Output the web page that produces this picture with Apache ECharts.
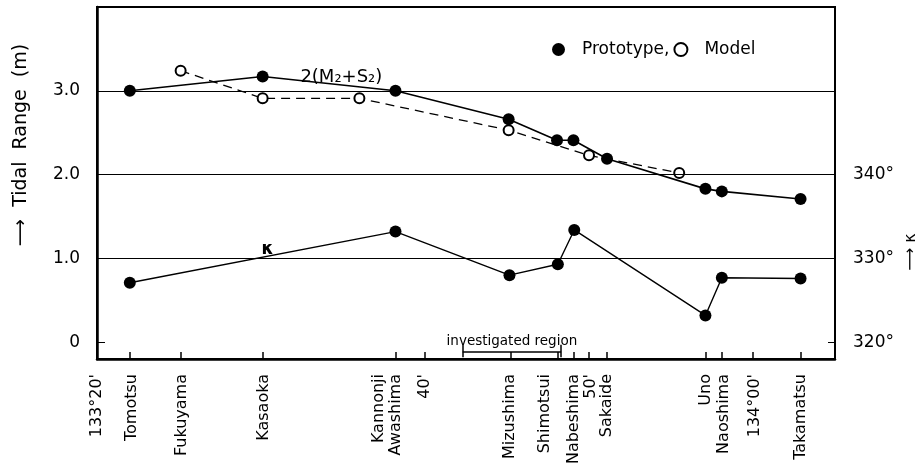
<!DOCTYPE html>
<html>
<head>
<meta charset="utf-8">
<script src="https://cdn.jsdelivr.net/npm/echarts@6/dist/echarts.min.js"></script>
<style>html,body{margin:0;padding:0;background:#fff}#c{width:919px;height:473px}</style>
</head>
<body>
<div id="c"></div>
<script>
// Longitude (minutes past 133°) of stations
const protoLon   = [22.0, 30.1, 38.2, 45.1, 48.05, 49.05, 51.1, 57.1, 58.1, 62.9];
const protoRange = [3.00, 3.17, 3.00, 2.66, 2.41, 2.41, 2.19, 1.83, 1.80, 1.71];
const modelLon   = [25.1, 30.1, 36.0, 45.1, 50.0, 55.5];
const modelRange = [3.24, 2.91, 2.91, 2.53, 2.23, 2.02];
const kappaLon   = [22.0, 38.2, 45.15, 48.1, 49.1, 57.1, 58.1, 62.9];
const kappaDeg   = [327.1, 333.2, 328.0, 329.3, 333.4, 323.2, 327.7, 327.6];

const tickLon    = [22.0, 25.1, 30.1, 38.2, 40, 45.2, 48.1, 49.1, 50, 51.1, 57.1, 58.1, 60, 62.9];
const labelLon   = [20, 22.1, 25.2, 30.2, 37.2, 38.2, 40, 45.2, 47.3, 49.1, 50.1, 51.1, 57.1, 58.2, 60.1, 62.9];
const labelText  = ["133°20'", 'Tomotsu', 'Fukuyama', 'Kasaoka', 'Kannonji', 'Awashima', "40'", 'Mizushima', 'Shimotsui', 'Nabeshima', "50'", 'Sakaide', 'Uno', 'Naoshima', "134°00'", 'Takamatsu'];

const leftTicks  = [0, 1, 2, 3];
const rightTicks = [320, 330, 340];
const gridValues = [1, 2, 3];
const regionLon  = [42.3, 48.3];

const FF = 'DejaVu Sans';
const pairs = (xs, ys) => xs.map((x, i) => [x, ys[i]]);

const chart = echarts.init(document.getElementById('c'));
chart.setOption({
  animation: false,
  backgroundColor: '#fff',
  textStyle: { fontFamily: FF, color: '#000' },
  grid: { left: 97, right: 84, top: 7, bottom: 114, show: true, borderColor: '#000', borderWidth: 2, containLabel: false },
  legend: {
    left: 547, top: 36, itemWidth: 13, itemHeight: 13, itemGap: 4, selectedMode: false,
    textStyle: { fontSize: 17, fontFamily: FF, color: '#000', padding: [0, 0, 0, 12] },
    data: [{ name: 'Prototype,', icon: 'circle' }, { name: 'Model', icon: 'emptyCircle' }]
  },
  xAxis: {
    type: 'value', min: 20, max: 65,
    axisLine: { show: true, onZero: false, lineStyle: { color: '#000', width: 2.5 } },
    axisTick: { show: true, inside: true, length: 7, customValues: tickLon, lineStyle: { color: '#000', width: 1.5 } },
    axisLabel: {
      customValues: labelLon, rotate: 90, margin: 15, fontSize: 16, color: '#000', fontFamily: FF,
      formatter: v => { const i = labelLon.indexOf(v); return i >= 0 ? labelText[i] : ''; }
    },
    splitLine: { show: false }
  },
  yAxis: [{
    type: 'value', min: -0.2, max: 4.0, position: 'left',
    axisLine: { show: true, lineStyle: { color: '#000', width: 2.5 } },
    axisTick: { show: true, inside: true, length: 8, customValues: leftTicks, lineStyle: { color: '#000' } },
    axisLabel: { customValues: leftTicks, margin: 17, fontSize: 17, color: '#000', fontFamily: FF,
      formatter: v => v === 0 ? '0' : v.toFixed(1) },
    splitLine: { show: false }
  }, {
    type: 'value', min: 318, max: 360, position: 'right',
    axisLine: { show: true, lineStyle: { color: '#000', width: 2 } },
    axisTick: { show: true, inside: true, length: 7, customValues: rightTicks, lineStyle: { color: '#000' } },
    axisLabel: { customValues: rightTicks, margin: 18, fontSize: 17, color: '#000', fontFamily: FF,
      formatter: v => v + '°' },
    splitLine: { show: false }
  }],
  graphic: [
    { type: 'text', x: 21, y: 145, rotation: Math.PI / 2,
      style: { text: '⟶  Tidal  Range  (m)', fontSize: 19, fontFamily: FF, fill: '#000', align: 'center', verticalAlign: 'middle' } },
    { type: 'text', x: 911, y: 252, rotation: Math.PI / 2,
      style: { text: '⟶ κ', fontSize: 16, fontFamily: FF, fill: '#000', align: 'center', verticalAlign: 'middle' } }
  ],
  series: [{
    name: 'Prototype,', type: 'line', data: pairs(protoLon, protoRange),
    symbol: 'circle', symbolSize: 12, itemStyle: { color: '#000' }, lineStyle: { color: '#000', width: 1.6 }, z: 5,
    markLine: {
      silent: true, symbol: 'none', animation: false,
      lineStyle: { color: '#000', width: 1, type: 'solid' }, label: { show: false },
      data: gridValues.map(v => ({ yAxis: v }))
    },
    markPoint: {
      silent: true, symbol: 'circle', symbolSize: 1, itemStyle: { color: 'rgba(0,0,0,0)' },
      label: { show: true, position: 'inside', color: '#000', fontSize: 18, fontFamily: FF, formatter: '2(M₂+S₂)' },
      data: [{ coord: [34.9, 3.16] }]
    }
  }, {
    name: 'Model', type: 'line', data: pairs(modelLon, modelRange),
    symbol: 'emptyCircle', symbolSize: 10, itemStyle: { color: '#000', borderWidth: 1.3 },
    lineStyle: { color: '#000', width: 1.3, type: [9, 6] }, z: 4,
    markLine: {
      silent: true, symbol: 'none', animation: false,
      lineStyle: { color: '#000', width: 1.5, type: 'solid' },
      label: { show: false },
      data: [
        [{ coord: [regionLon[0], -0.11], label: { show: true, position: 'middle', formatter: 'investigated region', fontSize: 13.5, color: '#000', fontFamily: FF, distance: 3 } },
         { coord: [regionLon[1], -0.11] }],
        [{ coord: [regionLon[0], -0.03] }, { coord: [regionLon[0], -0.18] }],
        [{ coord: [regionLon[1], -0.03] }, { coord: [regionLon[1], -0.18] }]
      ]
    }
  }, {
    name: 'κ', type: 'line', yAxisIndex: 1, data: pairs(kappaLon, kappaDeg),
    symbol: 'circle', symbolSize: 12, itemStyle: { color: '#000' }, lineStyle: { color: '#000', width: 1.4 }, z: 5,
    markPoint: {
      silent: true, symbol: 'circle', symbolSize: 1, itemStyle: { color: 'rgba(0,0,0,0)' },
      label: { show: true, position: 'inside', color: '#000', fontSize: 17, fontWeight: 'bold', fontFamily: FF, formatter: 'κ' },
      data: [{ coord: [30.4, 331.0] }]
    }
  }]
});
</script>
</body>
</html>
